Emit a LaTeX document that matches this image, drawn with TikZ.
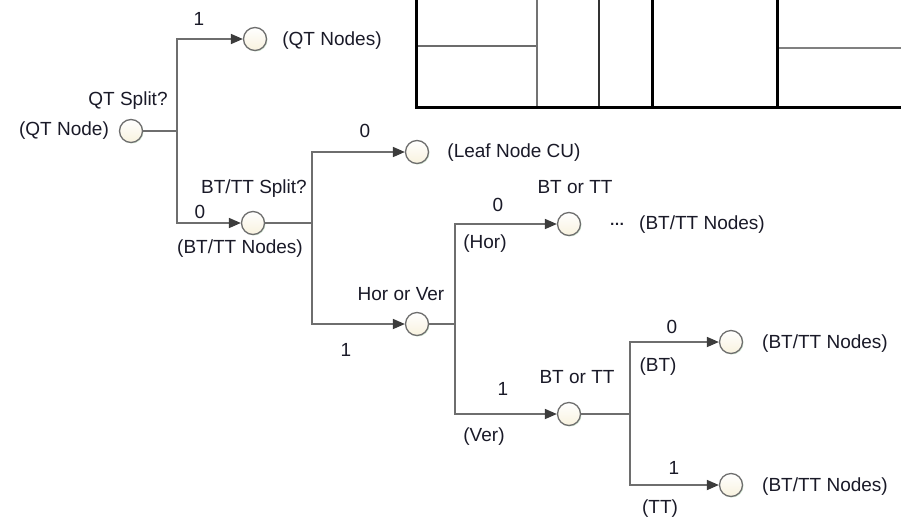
\documentclass[tikz,border=0pt]{standalone}
\usepackage{fontspec}
\setmainfont{Liberation Sans}
\usetikzlibrary{arrows.meta,shadows}
\definecolor{linegrey}{HTML}{6E6E6E}
\definecolor{tipgrey}{HTML}{3C3C3C}
\definecolor{txt}{HTML}{1A1A28}
\definecolor{cream}{HTML}{F8F2DE}
\begin{document}
\begin{tikzpicture}[x=1pt,y=-1pt,
  every node/.style={font=\fontsize{19}{22}\selectfont, text=txt, inner sep=0pt},
  state/.style={circle, minimum size=23pt, draw=linegrey, line width=1.3pt,
    top color=white, bottom color=cream,
    drop shadow={fill=green!40!gray!35, shadow xshift=1pt, shadow yshift=-1pt, opacity=0.6}},
  conn/.style={draw=linegrey, line width=1.7pt},
  arr/.style={conn, -{Triangle[length=12pt,width=10pt,color=tipgrey]}},
  thickline/.style={draw=black, line width=3pt},
]
\useasboundingbox (0,0) rectangle (901,517);
\fill[white] (0,0) rectangle (901,517);

% top-right partition box
\draw[draw=gray!85!black, line width=1.5pt] (416,46) -- (537,46);
\draw[draw=gray, line width=2pt] (777,48) -- (901,48);
\draw[draw=gray!90!black, line width=1.5pt] (537,0) -- (537,107);
\draw[draw=black!80, line width=1.2pt] (599,0) -- (599,107);
\draw[thickline] (652,0) -- (652,107);
\draw[thickline] (777,0) -- (777,107);
\draw[thickline] (416,0) -- (416,107) -- (901,107);

% circles
\node[state] (n1) at (131,131) {};
\node[state] (n2) at (255,39) {};
\node[state] (n3) at (253,223) {};
\node[state] (n4) at (417,152) {};
\node[state] (n5) at (417,324) {};
\node[state] (n6) at (569,224) {};
\node[state] (n7) at (569,414) {};
\node[state] (n8) at (731,342) {};
\node[state] (n9) at (731,485) {};

% junctions
\coordinate (j1) at (177,131);
\coordinate (j2) at (312,223);
\coordinate (j3) at (455,324);
\coordinate (j4) at (630,414);

% connectors
\draw[conn] (n1) -- (j1);
\draw[arr] (j1) |- (n2);
\draw[arr] (j1) |- (n3);
\draw[conn] (n3) -- (j2);
\draw[arr] (j2) |- (n4);
\draw[arr] (j2) |- (n5);
\draw[conn] (n5) -- (j3);
\draw[arr] (j3) |- (n6);
\draw[arr] (j3) |- (n7);
\draw[conn] (n7) -- (j4);
\draw[arr] (j4) |- (n8);
\draw[arr] (j4) |- (n9);

% labels
\node (t1) at (128,101) {QT Split?};
\node (t2) at (64,131) {(QT Node)};
\node (t3) at (199,19) {1};
\node (t4) at (332,41) {(QT Nodes)};
\node (t5) at (200,212) {0};
\node (t6) at (254,189) {BT/TT Split?};
\node (t7) at (240,249) {(BT/TT Nodes)};
\node (t8) at (365,131) {0};
\node (t9) at (514,153) {(Leaf Node CU)};
\node (t10) at (401,294) {Hor or Ver};
\node (t11) at (346,350) {1};
\node (t12) at (498,205) {0};
\node (t13) at (485,244) {(Hor)};
\node (t14) at (575,187) {BT or TT};
\node (t15) at (617,224) {\fontsize{15}{17}\selectfont\bfseries …};
\node (t16) at (702,225) {(BT/TT Nodes)};
\node (t17) at (503,389) {1};
\node (t18) at (484,437) {(Ver)};
\node (t19) at (577,377) {BT or TT};
\node (t20) at (672,327) {0};
\node (t21) at (658,367) {(BT)};
\node (t22) at (825,344) {(BT/TT Nodes)};
\node (t23) at (674,468) {1};
\node (t24) at (825,487) {(BT/TT Nodes)};
\node (t25) at (660,509) {(TT)};
\end{tikzpicture}
\end{document}
